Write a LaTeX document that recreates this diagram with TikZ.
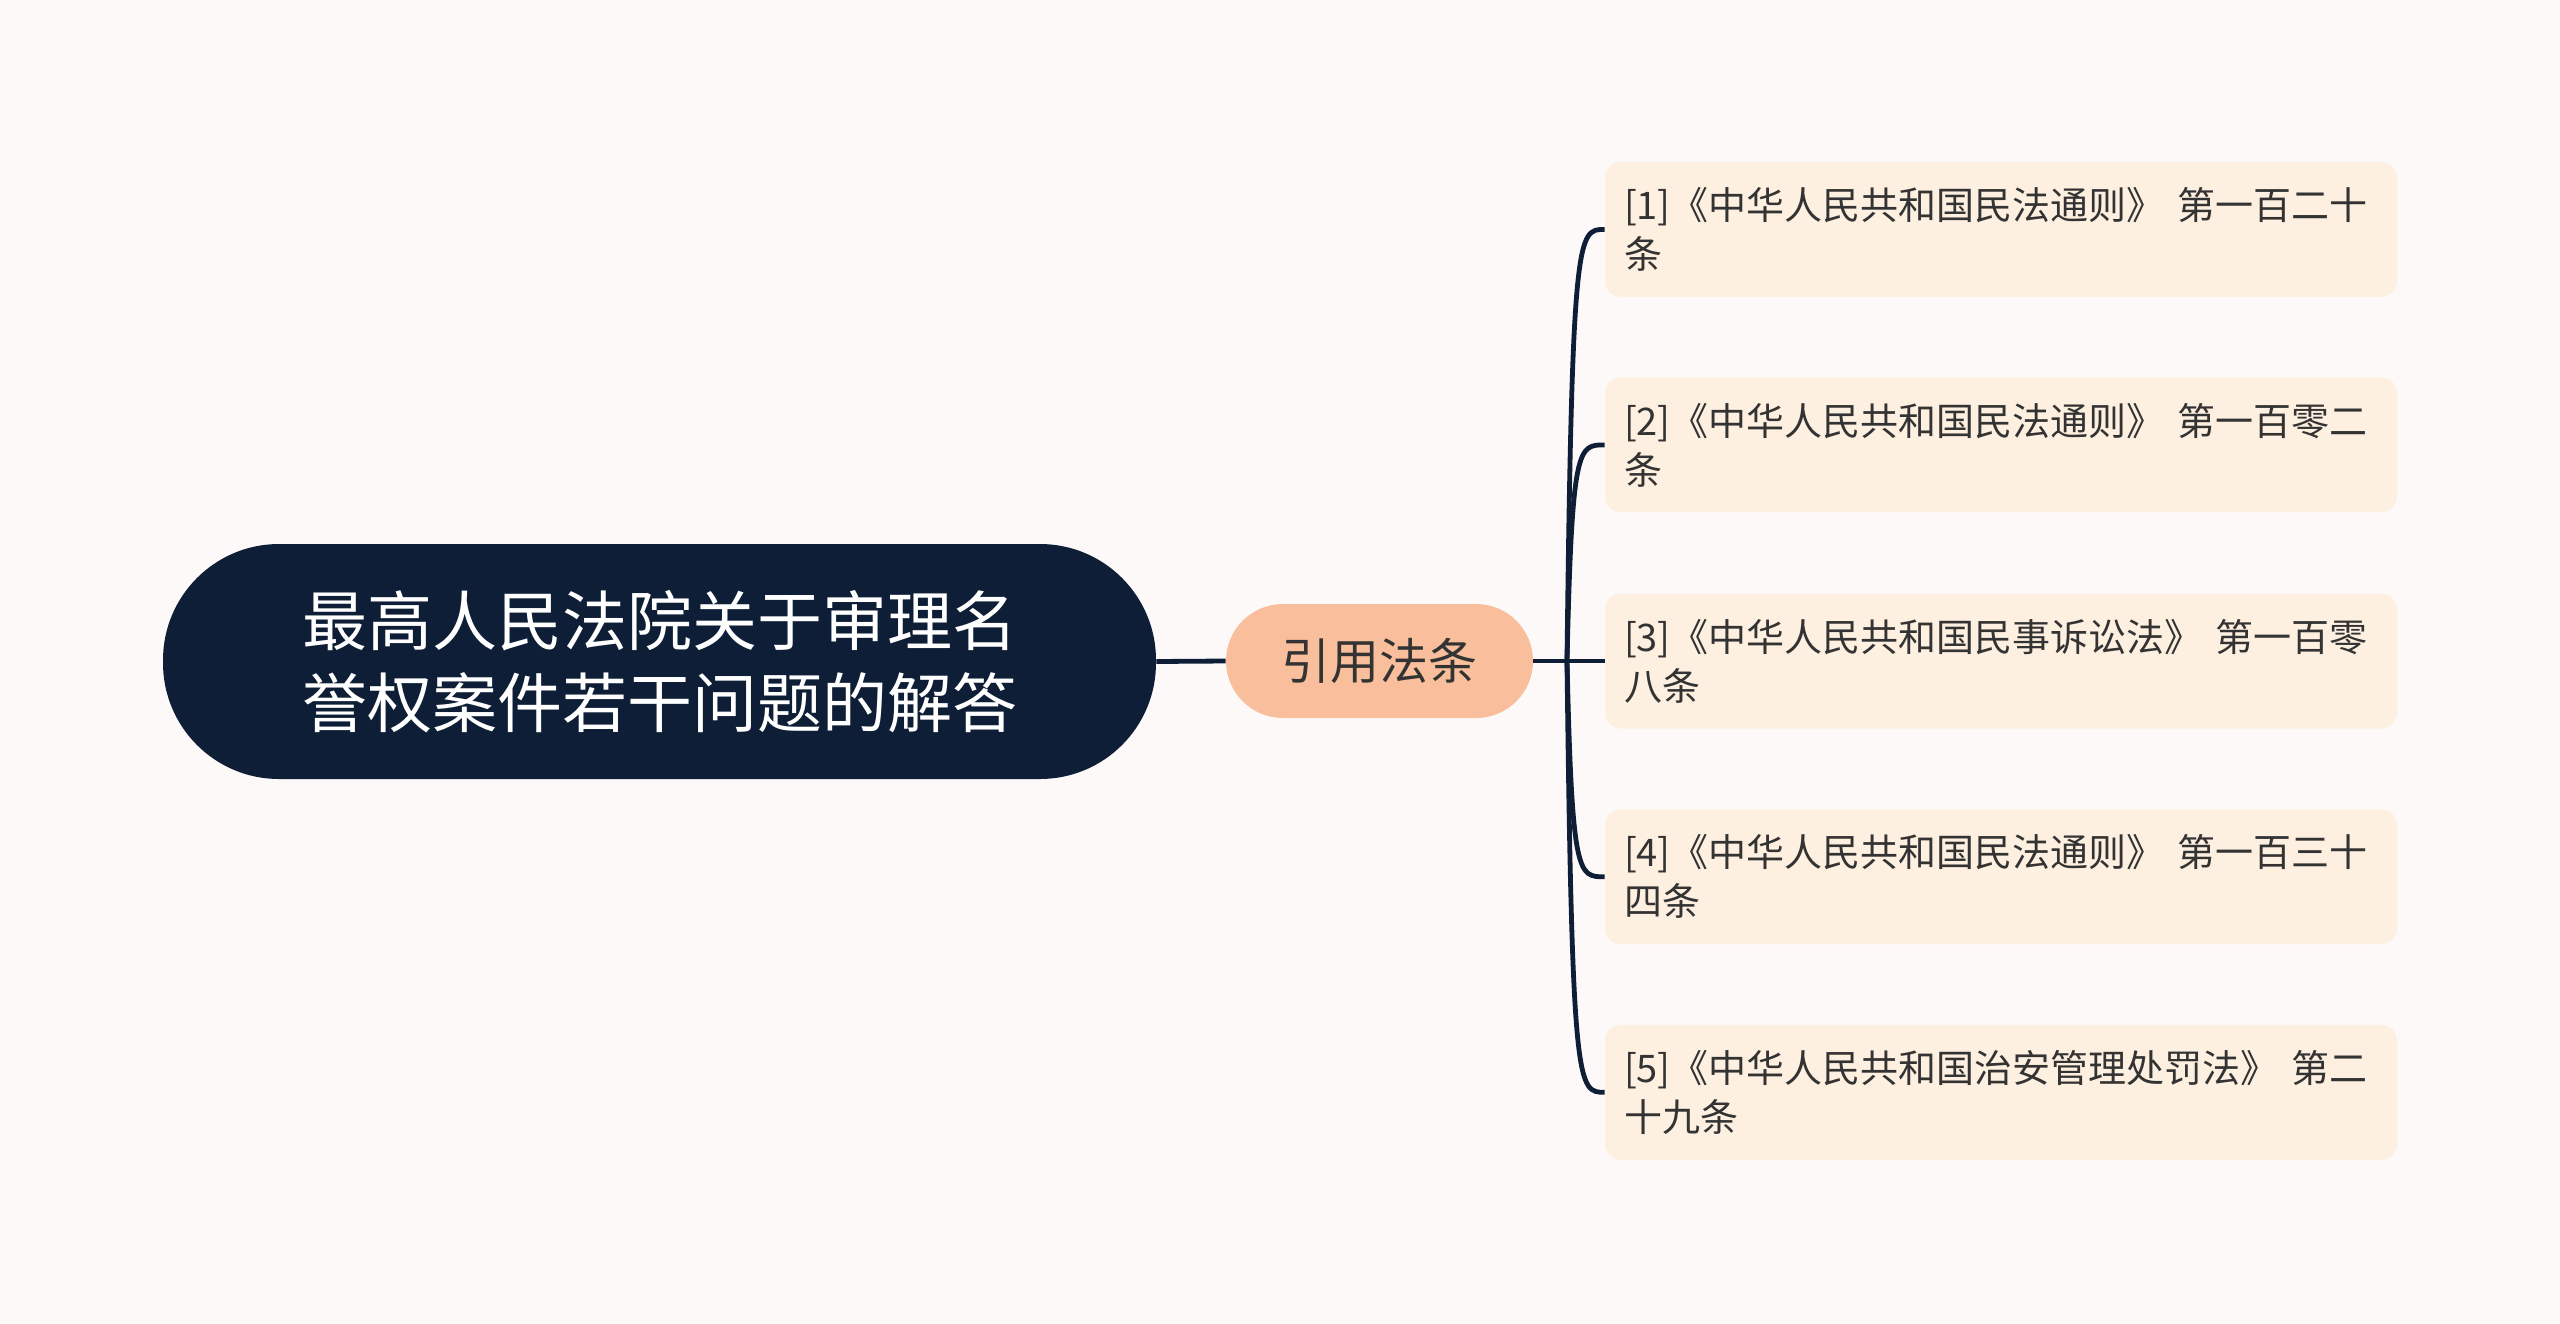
\documentclass[tikz,border=0pt]{standalone}
\usepackage{fontspec}
\setmainfont{Noto Sans CJK SC}
\definecolor{bgc}{HTML}{FDF9F8}
\definecolor{rootc}{HTML}{0E1E36}
\definecolor{midc}{HTML}{F9BE9B}
\definecolor{leafc}{HTML}{FEF0E0}
\definecolor{textc}{HTML}{333333}
\definecolor{linec}{HTML}{0E1E36}
\begin{document}
\begin{tikzpicture}[
 x=0.5pt, y=-0.5pt,
 conn/.style={draw=linec, line width=2.4pt},
 rootbox/.style={fill=rootc, rounded corners=58pt, minimum width=496.5pt, minimum height=117.5pt, text=white, align=center, font=\fontsize{32.5}{41}\selectfont, inner sep=0pt},
 midbox/.style={fill=midc, rounded corners=28.5pt, minimum width=153.5pt, minimum height=57pt, text=textc, font=\fontsize{24.5}{30}\selectfont, inner sep=0pt},
 leafbox/.style={fill=leafc, rounded corners=8pt, minimum width=396pt, minimum height=67.5pt, text width=377pt, inner xsep=9.5pt, inner ysep=0pt, align=left, text=textc, font=\fontsize{19}{24.5}\selectfont},
]
\fill[bgc] (0,0) rectangle (2560,1323);
\useasboundingbox (0,0) rectangle (2560,1323);

\node[rootbox] (root) at (659.5,661.5) {最高人民法院关于审理名\\誉权案件若干问题的解答};
\node[midbox] (mid) at (1379.5,661) {引用法条};

\node[leafbox] (l1) at (2001,229.4) {[1]《中华人民共和国民法通则》 第一百二十\\条};
\node[leafbox] (l2) at (2001,444.9) {[2]《中华人民共和国民法通则》 第一百零二\\条};
\node[leafbox] (l3) at (2001,661) {[3]《中华人民共和国民事诉讼法》 第一百零\\八条};
\node[leafbox] (l4) at (2001,876.8) {[4]《中华人民共和国民法通则》 第一百三十\\四条};
\node[leafbox] (l5) at (2001,1092.3) {[5]《中华人民共和国治安管理处罚法》 第二\\十九条};

\coordinate (T) at (1567,661);

\draw[conn] (root.east) -- (mid.west);
\draw[conn] (mid.east) -- (T) -- (l3.west);
\foreach \n/\yy in {l1/229.4, l2/444.9, l4/876.8, l5/1092.3}{
  \draw[conn] (T) .. controls (1572,\yy) and (1578,\yy) .. (\n.west);
}
\end{tikzpicture}
\end{document}
